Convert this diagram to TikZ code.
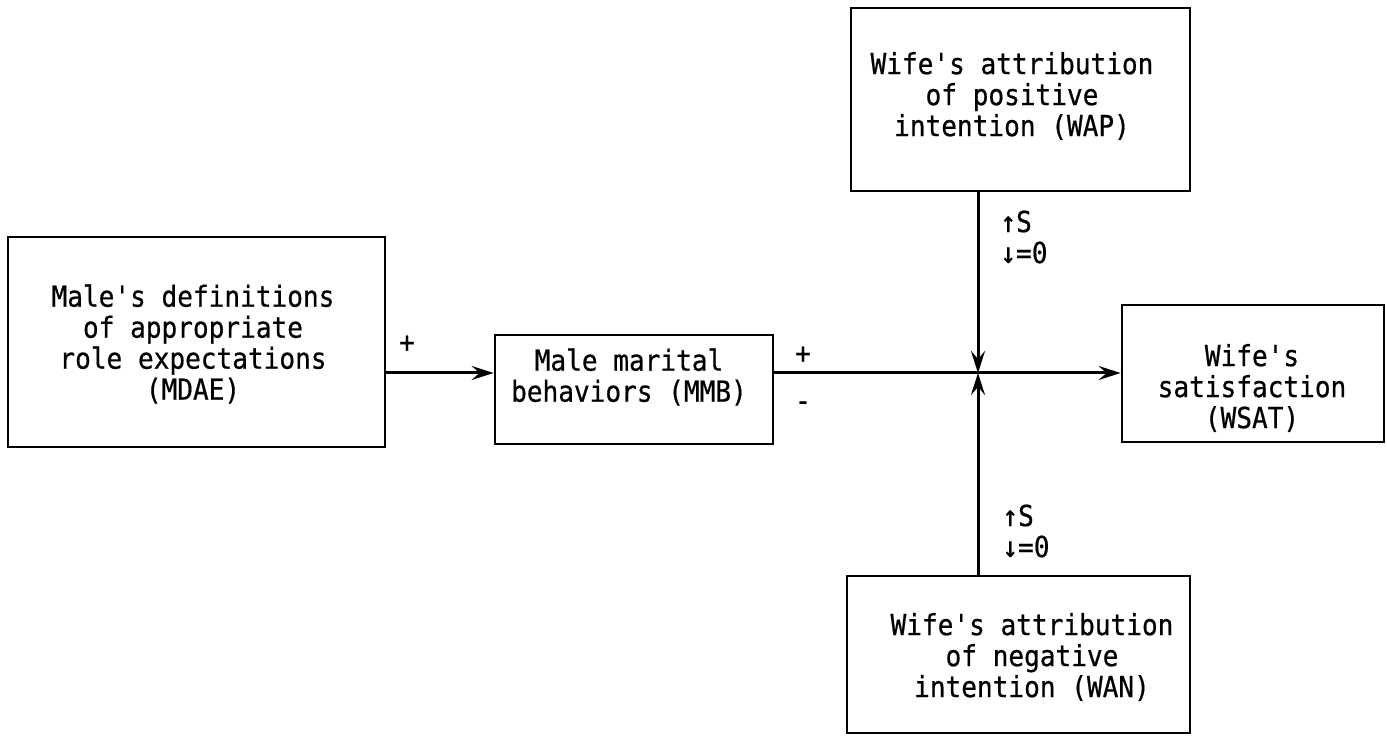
\documentclass[tikz,border=0pt]{standalone}
\usepackage{fontspec}
\setmonofont[FakeStretch=0.9,FakeBold=0.6]{DejaVu Sans Mono}
\usetikzlibrary{arrows.meta}

\begin{document}
\begin{tikzpicture}[x=0.5pt,y=-0.5pt,
  box/.style={draw, line width=1.4pt, inner sep=0pt},
  txt/.style={font=\ttfamily\fontsize{14.5}{15.5}\selectfont, align=center, inner sep=0pt},
  lbl/.style={font=\ttfamily\fontsize{14.5}{15.5}\selectfont, inner sep=0pt},
  sgn/.style={font=\ttfamily\fontsize{14.5}{15.5}\selectfont, align=left, inner sep=0pt, anchor=west},
  conn/.style={line width=1.5pt, -{Stealth[length=11pt,width=7pt,inset=4pt]}},
]
\useasboundingbox (0,0) rectangle (1387,737);

% boxes
\node[box, minimum width=188.5pt, minimum height=105pt] (mdae) at (196.5,342) {};
\node[box, minimum width=139pt, minimum height=54.5pt] (mmb) at (634,389.5) {};
\node[box, minimum width=169.5pt, minimum height=91.5pt] (wap) at (1020.5,99.5) {};
\node[box, minimum width=131pt, minimum height=68.5pt] (wsat) at (1253,373.5) {};
\node[box, minimum width=171.5pt, minimum height=78.5pt] (wan) at (1018.5,654.5) {};

% box texts
\node[txt] (mdaet) at (193,344) {Male's definitions\\of appropriate\\role expectations\\(MDAE)};
\node[txt] (mmbt) at (629,377) {Male marital\\behaviors (MMB)};
\node[txt] (wapt) at (1012,96) {Wife's attribution\\of positive\\intention (WAP)};
\node[txt] (want) at (1032,657) {Wife's attribution\\of negative\\intention (WAN)};
\node[txt] (wsatt) at (1252,388) {Wife's\\satisfaction\\(WSAT)};

% junction of the moderating paths
\coordinate (hub) at (978,373);

% connectors
\draw[conn] (mdae.east |- hub) -- (mmb.west |- hub);
\draw[conn] (mmb.east |- hub) -- (wsat.west |- hub);
\draw[conn] (hub |- wap.south) -- (hub);
\draw[conn] (hub |- wan.north) -- (hub);

% signs
\node[lbl] (p1) at (407,344) {+};
\node[lbl] (p2) at (803,355) {+};
\node[lbl] (m2) at (803,406) {-};
\node[sgn] (s1) at (1000,237) {↑S\\↓=0};
\node[sgn] (s2) at (1002,531) {↑S\\↓=0};
\end{tikzpicture}
\end{document}
